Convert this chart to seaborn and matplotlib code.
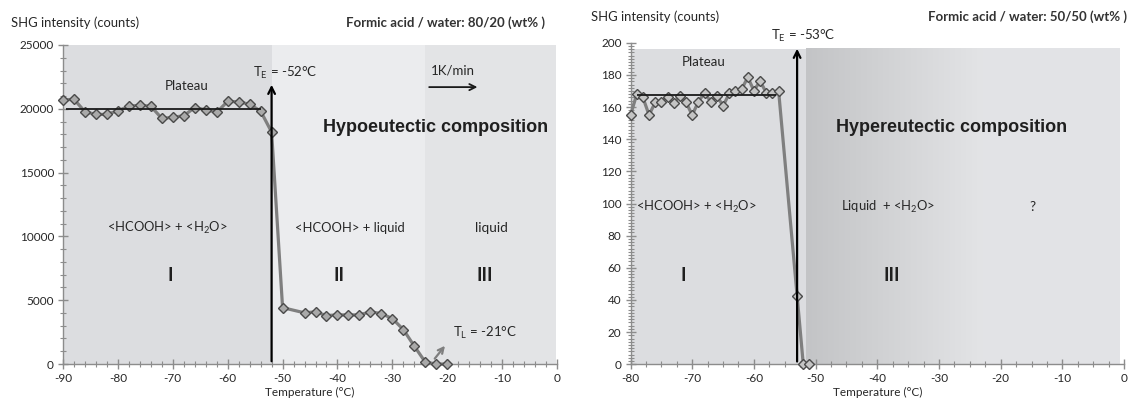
import numpy as np
import pandas as pd
import matplotlib
matplotlib.use("Agg")
import matplotlib.pyplot as plt
from matplotlib.ticker import MultipleLocator
import seaborn as sns

# ---- data: 80/20 wt% formic acid / water (hypoeutectic) ----
temps_a = [-90, -88, -86, -84, -82, -80, -78, -76, -74, -72, -70, -68, -66, -64,
           -62, -60, -58, -56, -54, -52, -50, -46, -44, -42, -40, -38, -36, -34,
           -32, -30, -28, -26, -24, -22, -20]
counts_a = [20690, 20750, 19770, 19560, 19560, 19850, 20200, 20280, 20200, 19250,
            19330, 19460, 20100, 19920, 19720, 20590, 20540, 20360, 19820, 18180,
            4420, 4010, 4090, 3800, 3850, 3850, 3850, 4090, 3950, 3560, 2700,
            1400, 150, 0, 0]
plateau_a = 20000
te_a = -52
tl_a = -21

# ---- data: 50/50 wt% formic acid / water (hypereutectic) ----
temps_b = [-80, -79, -78, -77, -76, -75, -74, -73, -72, -71, -70, -69, -68, -67,
           -66, -65, -64, -63, -62, -61, -60, -59, -58, -57, -56, -53, -52, -51]
counts_b = [155.0, 167.9, 166.0, 155.0, 162.9, 163.3, 166.4, 162.3, 166.9, 162.9,
            155.0, 163.3, 168.9, 163.3, 167.1, 160.6, 168.5, 170.2, 171.0, 178.5,
            170.2, 176.2, 168.9, 168.9, 170.2, 42.7, 0.0, 0.0]
plateau_b = 167.5
te_b = -53

df_a = pd.DataFrame({"T": temps_a, "I": counts_a})
df_b = pd.DataFrame({"T": temps_b, "I": counts_b})

sns.set_theme(style="white")
plt.rcParams["font.family"] = ["Lato", "DejaVu Sans"]
plt.rcParams["mathtext.fontset"] = "custom"
plt.rcParams["mathtext.rm"] = "Lato"
plt.rcParams["axes.unicode_minus"] = False

TXT = "#262626"
AXC = "#8c8c8c"
FS = 9.4

fig = plt.figure(figsize=(11.29, 4.05), dpi=100)
ax1 = fig.add_axes([0.0558, 0.1012, 0.4376, 0.7877])
ax2 = fig.add_axes([0.5585, 0.1005, 0.4371, 0.7940])


def style_axis(ax, xmin, ymax, xminor, yminor, ymajor):
    ax.set_xlim(xmin, 0)
    ax.set_ylim(0, ymax)
    for s in ("top", "right"):
        ax.spines[s].set_visible(False)
    for s in ("left", "bottom"):
        ax.spines[s].set_color(AXC)
        ax.spines[s].set_linewidth(1.0)
    ax.xaxis.set_major_locator(MultipleLocator(10))
    ax.xaxis.set_minor_locator(MultipleLocator(xminor))
    ax.yaxis.set_major_locator(MultipleLocator(ymajor))
    ax.yaxis.set_minor_locator(MultipleLocator(yminor))
    ax.tick_params(which="major", direction="inout", length=7, width=1.0,
                   color=AXC, labelsize=8.5, labelcolor=TXT, pad=3)
    ax.tick_params(which="minor", direction="inout", length=5, width=0.8,
                   color=AXC)
    ax.tick_params(axis="x", which="both", bottom=True)
    ax.tick_params(axis="y", which="both", left=True)
    ax.set_xlabel("Temperature (°C)", fontsize=8.5, color=TXT, labelpad=2)
    ax.set_ylabel("")
    ax.grid(False)


line_kw = dict(color="#7f7f7f", linewidth=2.3, marker="D", markersize=4.6,
               markerfacecolor="#a9a9a9", markeredgecolor="#4a4a4a",
               markeredgewidth=1.0, zorder=4, clip_on=False)

# ================= left panel =================
ax1.axvspan(-90, te_a, color="#dcdde0", zorder=0, lw=0)
ax1.axvspan(te_a, -24, color="#ebecee", zorder=0, lw=0)
ax1.axvspan(-24, -0.2, color="#e3e4e6", zorder=0, lw=0)

sns.lineplot(data=df_a, x="T", y="I", ax=ax1, **line_kw)
ax1.hlines(plateau_a, -89.4, -54, color="#1a1a1a", lw=1.3, zorder=5)
ax1.annotate("", xy=(te_a, 22100), xytext=(te_a, 0),
             arrowprops=dict(arrowstyle="->", lw=1.6, color="black",
                             mutation_scale=12), zorder=6)
ax1.annotate("", xy=(-14, 21700), xytext=(-23.8, 21700),
             arrowprops=dict(arrowstyle="->", lw=1.3, color="#1a1a1a",
                             mutation_scale=11), zorder=6)
ax1.annotate("", xy=(-20.1, 1600), xytext=(-22.6, 250),
             arrowprops=dict(arrowstyle="->", lw=1.6, color="#7f7f7f",
                             mutation_scale=10), zorder=6)

style_axis(ax1, -90, 25000, 2, 1000, 5000)

ax1.text(-67.5, 21750, "Plateau", ha="center", va="center", fontsize=9.5, color=TXT)
ax1.text(-55.4, 22830, r"T$\mathregular{_E}$ = -52°C", ha="left", va="center",
         fontsize=9.5, color=TXT)
ax1.text(-19, 23000, "1K/min", ha="center", va="center", fontsize=9.5, color=TXT)
ax1.text(-22.2, 18520, "Hypoeutectic composition", ha="center", va="center",
         fontsize=13, fontweight="bold", family="Liberation Sans", color="#1f1f1f")
ax1.text(-70.9, 10630, r"<HCOOH> + <H$\mathregular{_2}$O>", ha="center", va="center",
         fontsize=FS, color=TXT)
ax1.text(-37.7, 10630, "<HCOOH> + liquid", ha="center", va="center",
         fontsize=FS, color=TXT)
ax1.text(-12.0, 10630, "liquid", ha="center", va="center", fontsize=9.8, color=TXT)
ax1.text(-70.5, 6900, "I", ha="center", va="center", fontsize=13.5,
         fontweight="bold", color="#1f1f1f")
ax1.text(-39.7, 6900, "II", ha="center", va="center", fontsize=13.5,
         fontweight="bold", color="#1f1f1f")
ax1.text(-13.1, 6900, "III", ha="center", va="center", fontsize=13.5,
         fontweight="bold", color="#1f1f1f")
ax1.text(-19, 2430, r"T$\mathregular{_L}$ = -21°C", ha="left", va="center",
         fontsize=9.5, color=TXT)

fig.text(10.7 / 1129, 1 - 23 / 405, "SHG intensity (counts)", ha="left",
         va="center", fontsize=9.4, color=TXT)
fig.text(545 / 1129, 1 - 23 / 405, "Formic acid / water: 80/20 (wt% )",
         ha="right", va="center", fontsize=9.5, fontweight="bold", color="#333333")

# ================= right panel =================
ax2.axvspan(-80, -51.6, ymax=196 / 200, color="#dcdde0", zorder=0, lw=0)
gx = np.linspace(-51.6, -0.8, 300)
shade = np.interp(gx, [-51.6, -23.0, -0.8], [0.765, 0.89, 0.89])
rgb = np.stack([shade, shade + 0.004, shade + 0.012], axis=-1)[None, :, :]
ax2.imshow(np.clip(rgb, 0, 1), extent=[-51.6, -0.8, 0, 196], aspect="auto",
           origin="lower", zorder=0, interpolation="bilinear")

line_kw_b = dict(line_kw)
line_kw_b["markerfacecolor"] = "#c4c4c4"
sns.lineplot(data=df_b, x="T", y="I", ax=ax2, **line_kw_b)
ax2.hlines(plateau_b, -79, -56.5, color="#1a1a1a", lw=1.3, zorder=5)
ax2.annotate("", xy=(te_b, 198), xytext=(te_b, 0),
             arrowprops=dict(arrowstyle="->", lw=1.6, color="black",
                             mutation_scale=12), zorder=6, annotation_clip=False)

style_axis(ax2, -80, 200, 2.5, 2, 20)

ax2.text(-68.2, 188.2, "Plateau", ha="center", va="center", fontsize=9.5, color=TXT)
ax2.text(-52, 204, r"T$\mathregular{_E}$ = -53°C", ha="center", va="center",
         fontsize=9.5, color=TXT, clip_on=False)
ax2.text(-27.9, 147, "Hypereutectic composition", ha="center", va="center",
         fontsize=13, fontweight="bold", family="Liberation Sans", color="#1f1f1f")
ax2.text(-69.3, 98, r"<HCOOH> + <H$\mathregular{_2}$O>", ha="center", va="center",
         fontsize=FS, color=TXT)
ax2.text(-38.3, 98, r"Liquid  + <H$\mathregular{_2}$O>", ha="center", va="center",
         fontsize=FS, color=TXT)
ax2.text(-14.9, 98, "?", ha="center", va="center", fontsize=9.8, color=TXT)
ax2.text(-71.4, 55, "I", ha="center", va="center", fontsize=13.5,
         fontweight="bold", color="#1f1f1f")
ax2.text(-37.7, 55, "III", ha="center", va="center", fontsize=13.5,
         fontweight="bold", color="#1f1f1f")

fig.text(590.7 / 1129, 1 - 16.7 / 405, "SHG intensity (counts)", ha="left",
         va="center", fontsize=9.4, color=TXT)
fig.text(1126.7 / 1129, 1 - 16.7 / 405, "Formic acid / water: 50/50 (wt% )",
         ha="right", va="center", fontsize=9.5, fontweight="bold", color="#333333")

fig.savefig("out.png", dpi=100)
